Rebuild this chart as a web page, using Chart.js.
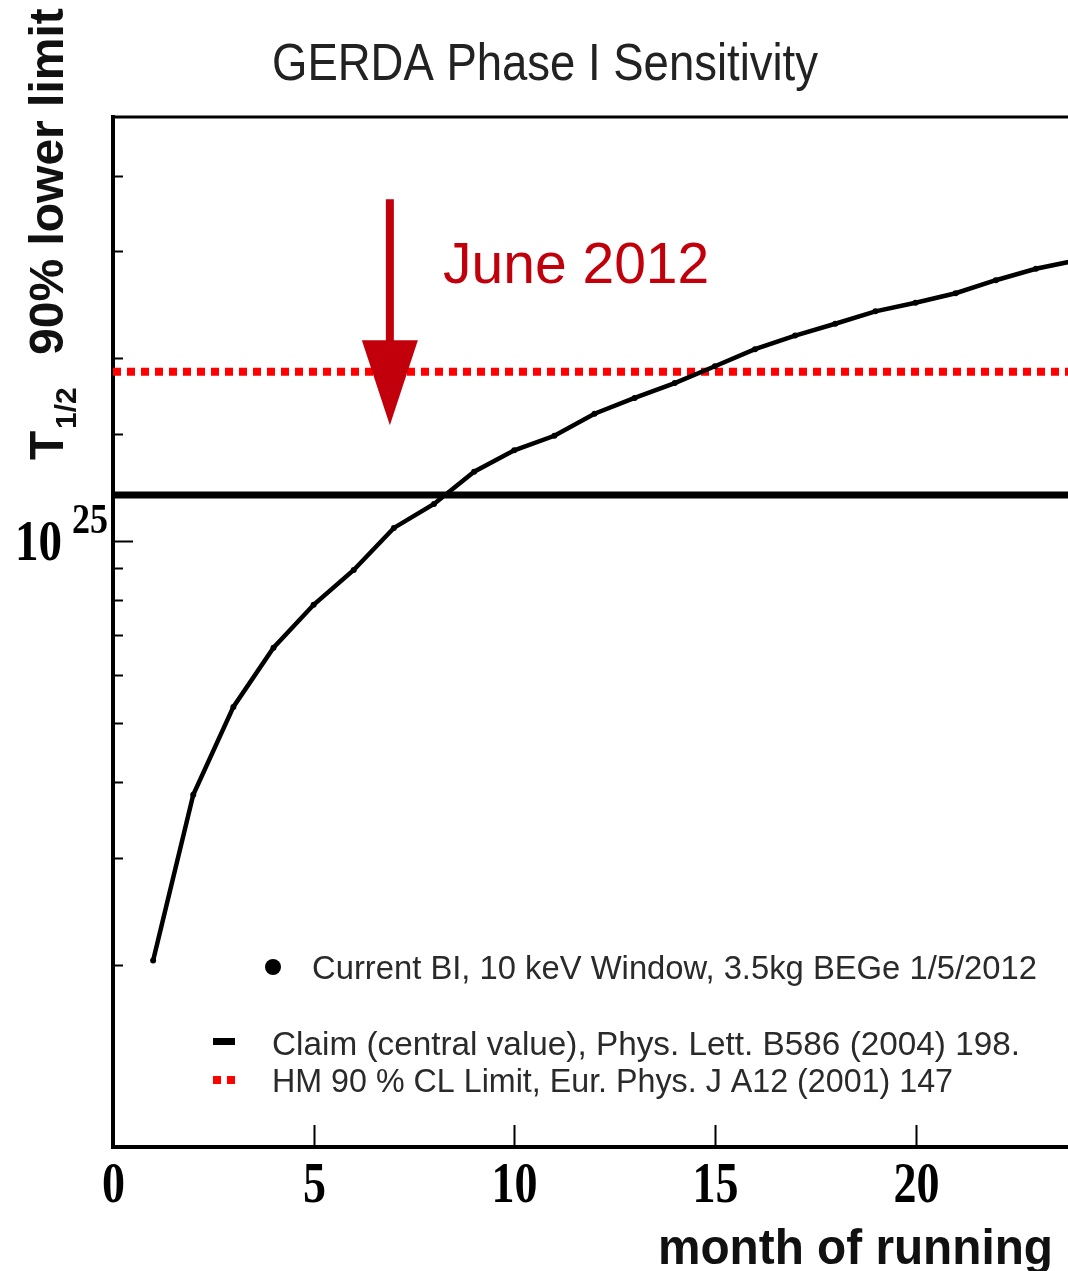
<!DOCTYPE html>
<html><head><meta charset="utf-8">
<script src="https://cdn.jsdelivr.net/npm/chart.js@4.4.1/dist/chart.umd.min.js"></script>
<style>html,body{margin:0;padding:0;background:#fff;overflow:hidden}#wrap{width:1068px;height:1271px;position:relative;overflow:hidden}</style>
</head><body><div id="wrap"><canvas id="c" width="1072" height="1271"></canvas></div>
<script>
// ---- data ----
const months = [1,2,3,4,5,6,7,8,9,10,11,12,13,14,15,16,17,18,19,20,21,22,23,24];
const sensitivity = [2.03e24,3.81e24,5.32e24,6.66e24,7.84e24,8.95e24,1.05e25,1.15e25,1.30e25,1.41e25,1.49e25,1.62e25,1.72e25,1.82e25,1.94e25,2.07e25,2.18e25,2.28e25,2.39e25,2.47e25,2.56e25,2.69e25,2.81e25,2.90e25];
const claimValue = 1.19e25;
const hmLimitValue = 1.9e25;
const lineSpanMonths = [0, 24];
const xTickValues = [0,5,10,15,20];
const xTickLabels = ['0','5','10','15','20'];
const seriesLabels = [
  'Current BI, 10 keV Window, 3.5kg BEGe 1/5/2012',
  'Claim (central value), Phys. Lett. B586 (2004) 198.',
  'HM 90 % CL Limit, Eur. Phys. J A12 (2001) 147'
];
const titleText = 'GERDA Phase I Sensitivity';
const xTitleText = 'month of running';
const yTitleMain = 'T', yTitleSub = '1/2', yTitleRest = '90% lower limit';
const yMajorLabelBase = '10', yMajorLabelExp = '25';
const annotationText = 'June 2012';
const arrowMonth = 6.9, arrowFrom = 3.66e25, arrowTo = 1.55e25;

const RED = '#c2000c';

const curveData = months.map((m,i)=>({x:m, y:sensitivity[i]}));
const claimData = lineSpanMonths.map(m=>({x:m, y:claimValue}));
const hmData = lineSpanMonths.map(m=>({x:m, y:hmLimitValue}));

function condensedText(ctx, text, x, y, font, color, maxW, align) {
  ctx.save();
  ctx.font = font; ctx.fillStyle = color; ctx.textAlign = align || 'left'; ctx.textBaseline = 'alphabetic';
  if (maxW) ctx.fillText(text, x, y, maxW); else ctx.fillText(text, x, y);
  ctx.restore();
}

const decor = {
  id: 'decor',
  afterDraw(chart) {
    const ctx = chart.ctx, a = chart.chartArea, xs = chart.scales.x, ys = chart.scales.y;
    ctx.save();
    // top frame
    ctx.strokeStyle = '#000'; ctx.lineWidth = 3;
    ctx.beginPath(); ctx.moveTo(a.left - 2, a.top); ctx.lineTo(a.right + 4, a.top); ctx.stroke();
    // y inward ticks
    ctx.lineWidth = 2;
    ys.ticks.forEach(t => {
      if (t.value <= ys.min || t.value >= ys.max) return;
      const py = Math.round(ys.getPixelForValue(t.value)) + 0.5;
      const isMajor = Math.abs(Math.log10(t.value) - Math.round(Math.log10(t.value))) < 1e-9;
      const len = isMajor ? 20 : 10;
      ctx.beginPath(); ctx.moveTo(a.left, py); ctx.lineTo(a.left + len, py); ctx.stroke();
      if (isMajor) {
        condensedText(ctx, yMajorLabelBase, 15, py + 18, 'bold 58px "Liberation Serif"', '#000', 47);
        condensedText(ctx, yMajorLabelExp, 72, py - 9, 'bold 42px "Liberation Serif"', '#000', 36);
      }
    });
    // x inward ticks + labels
    xTickValues.forEach((v,i) => {
      const px = Math.round(xs.getPixelForValue(v)) + 0.5;
      if (v > xs.min) {
        ctx.beginPath(); ctx.moveTo(px, a.bottom); ctx.lineTo(px, a.bottom - 22); ctx.stroke();
      }
      const lab = xTickLabels[i];
      condensedText(ctx, lab, px, a.bottom + 55, 'bold 58px "Liberation Serif"', '#000', 23 * lab.length, 'center');
    });
    // x title
    condensedText(ctx, xTitleText, 1053, 1264, 'bold 50px "Liberation Sans"', '#111', 395, 'right');
    // title
    condensedText(ctx, titleText, 545, 80, '52px "Liberation Sans"', '#222', 546, 'center');
    // y title (rotated)
    ctx.save();
    ctx.translate(63, 460); ctx.rotate(-Math.PI/2);
    ctx.fillStyle = '#111'; ctx.textBaseline = 'alphabetic'; ctx.textAlign = 'left';
    ctx.font = 'bold 48px "Liberation Sans"'; ctx.fillText(yTitleMain, 0, 0);
    ctx.font = 'bold 30px "Liberation Sans"'; ctx.fillText(yTitleSub, 31, 13);
    ctx.font = 'bold 48px "Liberation Sans"'; ctx.fillText(yTitleRest, 105, 0);
    ctx.restore();
    // annotation arrow
    const ax = xs.getPixelForValue(arrowMonth);
    const ay0 = ys.getPixelForValue(arrowFrom), ay1 = ys.getPixelForValue(arrowTo);
    const headLen = 85, headHalf = 28;
    ctx.fillStyle = RED; ctx.strokeStyle = RED; ctx.lineWidth = 8;
    ctx.beginPath(); ctx.moveTo(ax, ay0); ctx.lineTo(ax, ay1 - headLen + 2); ctx.stroke();
    ctx.beginPath(); ctx.moveTo(ax - headHalf, ay1 - headLen); ctx.lineTo(ax + headHalf, ay1 - headLen); ctx.lineTo(ax, ay1); ctx.closePath(); ctx.fill();
    condensedText(ctx, annotationText, 443, 283, '57px "Liberation Sans"', RED, 271);
    // legend
    const lf = '34px "Liberation Sans"', lc = '#2a2a2a';
    ctx.fillStyle = '#000';
    ctx.beginPath(); ctx.arc(273, 967, 8, 0, Math.PI*2); ctx.fill();
    condensedText(ctx, seriesLabels[0], 312, 979, lf, lc, 725);
    ctx.fillRect(213, 1038, 22, 7);
    condensedText(ctx, seriesLabels[1], 272, 1055, lf, lc, 748);
    ctx.fillStyle = '#ff0000';
    ctx.fillRect(213, 1076, 8, 8); ctx.fillRect(227, 1076, 8, 8);
    condensedText(ctx, seriesLabels[2], 272, 1092, lf, lc, 681);
    ctx.restore();
  }
};

new Chart(document.getElementById('c'), {
  type: 'line',
  data: {
    datasets: [
      { label: seriesLabels[0], data: curveData, borderColor: '#000', backgroundColor: '#000', borderWidth: 4.5,
        pointRadius: 3, pointBorderWidth: 0, pointBackgroundColor: '#000', tension: 0, fill: false },
      { label: seriesLabels[1], data: claimData, borderColor: '#000', borderWidth: 7, pointRadius: 0, fill: false },
      { label: seriesLabels[2], data: hmData, borderColor: '#ff0000', borderWidth: 8, borderDash: [8,6], borderCapStyle: 'butt', pointRadius: 0, fill: false }
    ]
  },
  options: {
    responsive: false, animation: false, devicePixelRatio: 1,
    layout: { padding: { top: 117, right: 0, bottom: 0, left: 0 } },
    plugins: { legend: { display: false }, title: { display: false }, tooltip: { enabled: false } },
    scales: {
      x: { type: 'linear', min: 0, max: 23.8,
        ticks: { display: false, stepSize: 5, includeBounds: false },
        grid: { display: true, drawOnChartArea: false, drawTicks: false },
        border: { display: true, color: '#000', width: 4 },
        afterFit(s) { s.height = 124; } },
      y: { type: 'logarithmic', min: 1e24, max: 5e25,
        ticks: { display: false },
        grid: { display: true, drawOnChartArea: false, drawTicks: false },
        border: { display: true, color: '#000', width: 4 },
        afterFit(s) { s.width = 113; } }
    }
  },
  plugins: [decor]
});
</script></body></html>
